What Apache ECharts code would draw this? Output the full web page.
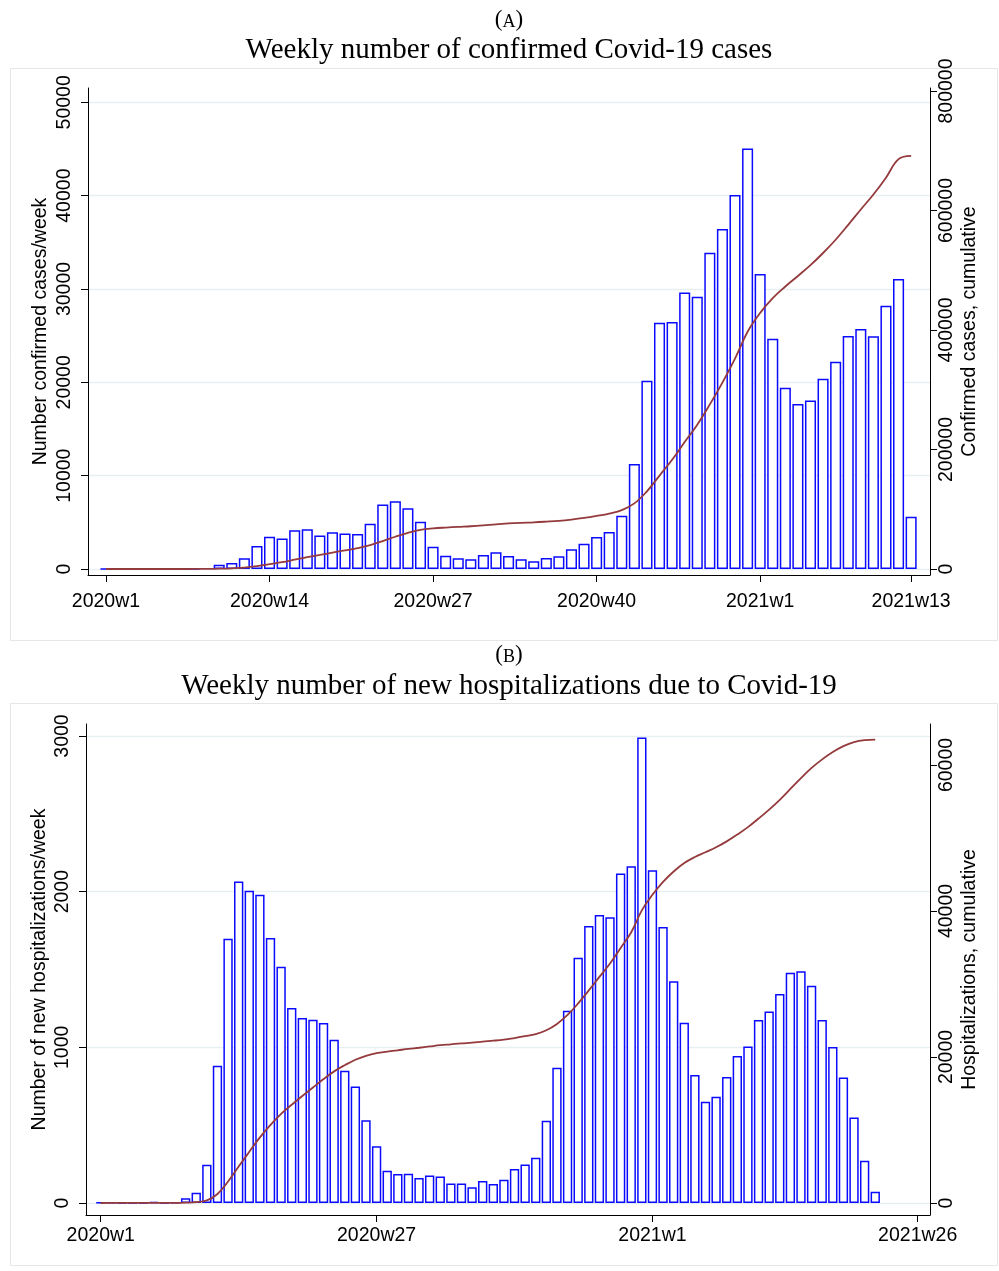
<!DOCTYPE html>
<html>
<head>
<meta charset="utf-8">
<script src="https://cdn.jsdelivr.net/npm/echarts@6/dist/echarts.min.js"></script>
<style>
  html, body { margin: 0; padding: 0; background: #ffffff; }
  #chart { width: 999px; height: 1271px; }
</style>
</head>
<body>
<div id="chart"></div>
<script>
// Weekly counts (Stata-style weeks: 52 per year, index 0 = 2020w1)
const casesWeekly = [
  5, null, null, null, 10, 10, null, 20, null, 460,
  640, 1140, 2460, 3460, 3280, 4140, 4250, 3600, 3930, 3800,
  3750, 4850, 6920, 7250, 6500, 5070, 2390, 1430, 1140, 1040,
  1500, 1790, 1390, 1040, 820, 1180, 1360, 2110, 2710, 3430,
  3960, 5700, 11250, 20180, 26390, 26460, 29610, 29180, 33890, 36430,
  40070, 45040, 31610, 24680, 19430, 17680, 18040, 20390, 22210, 24960,
  25710, 24930, 28210, 31070, 5610
];

const hospWeekly = [
  2, 2, 0, 0, 1, 6, 1, 3, 30, 66,
  246, 882, 1698, 2066, 2006, 1980, 1702, 1518, 1252, 1188,
  1177, 1156, 1049, 850, 749, 531, 364, 208, 186, 188,
  160, 176, 171, 126, 126, 101, 141, 122, 150, 218,
  248, 291, 528, 869, 1235, 1576, 1779, 1850, 1835, 2117,
  2164, 2990, 2137, 1773, 1424, 1158, 822, 651, 683, 809,
  944, 1006, 1175, 1231, 1342, 1479, 1488, 1396, 1175, 1002,
  807, 550, 272, 73
];

// Axis tick labels
const casesTicksX = ['2020w1', '2020w14', '2020w27', '2020w40', '2021w1', '2021w13'];
const hospTicksX = ['2020w1', '2020w27', '2021w1', '2021w26'];
const casesTicksY = [0, 10000, 20000, 30000, 40000, 50000];
const casesCumTicksY = [0, 200000, 400000, 600000, 800000];
const hospTicksY = [0, 1000, 2000, 3000];
const hospCumTicksY = [0, 20000, 40000, 60000];

function weekName(i) {
  return i < 52 ? '2020w' + (i + 1) : '2021w' + (i - 51);
}
function weekList(n) {
  return Array.from({ length: n }, (_, i) => weekName(i));
}
const casesWeeks = weekList(65);
const hospWeeks = weekList(78);

// Cumulative totals of the weekly counts
function runningTotal(arr) {
  let s = 0;
  return arr.map(v => (s += (v || 0)));
}
function toPairs(arr) {
  const out = [];
  arr.forEach((v, i) => { if (v !== null && v !== undefined) out.push([i, v]); });
  return out;
}

const FONT_SANS = '"Liberation Sans", Arial, Helvetica, sans-serif';
const FONT_SERIF = '"Liberation Serif", "Times New Roman", serif';
const INK = '#000000';
const GRID_COLOR = '#e8eff1';
const BAR_EDGE = '#0a0aff';
const LINE_COLOR = '#943a3c';
const LABEL_SIZE = 19.5;

function xAxisCfg(gridIndex, min, max, weeks, tickNames, margin) {
  const idx = tickNames.map(t => weeks.indexOf(t));
  return {
    type: 'value', gridIndex, min, max, position: 'bottom',
    axisLine: { show: true, onZero: false, lineStyle: { color: INK, width: 1 } },
    axisTick: { show: true, length: 7, customValues: idx, lineStyle: { color: INK, width: 1 } },
    axisLabel: {
      show: true, customValues: idx, formatter: v => weeks[v] || weekName(v),
      color: INK, fontFamily: FONT_SANS, fontSize: LABEL_SIZE, margin
    },
    splitLine: { show: false }
  };
}

function yAxisCfg(gridIndex, position, min, max, ticks, name, nameGap, margin, gridLines) {
  return {
    type: 'value', gridIndex, position, min, max,
    name, nameLocation: 'middle', nameGap, nameRotate: 90, nameMoveOverlap: false,
    nameTextStyle: { color: INK, fontFamily: FONT_SANS, fontSize: LABEL_SIZE },
    axisLine: { show: true, onZero: false, lineStyle: { color: INK, width: 1 } },
    axisTick: { show: true, length: 7, customValues: ticks, lineStyle: { color: INK, width: 1 } },
    axisLabel: {
      show: true, customValues: ticks, rotate: 90, formatter: v => String(v),
      color: INK, fontFamily: FONT_SANS, fontSize: LABEL_SIZE, margin
    },
    splitLine: { show: gridLines, lineStyle: { color: GRID_COLOR, width: 1.3 } }
  };
}

function barSeries(xi, yi, values) {
  return {
    type: 'bar', xAxisIndex: xi, yAxisIndex: yi,
    data: toPairs(values), barWidth: '88%',
    itemStyle: { color: '#ffffff', borderColor: BAR_EDGE, borderWidth: 1.5 },
    emphasis: { disabled: true }, z: 2
  };
}
function cumSeries(xi, yi, values) {
  return {
    type: 'line', xAxisIndex: xi, yAxisIndex: yi,
    data: runningTotal(values).map((v, i) => [i, v]),
    showSymbol: false, smooth: 0.4,
    lineStyle: { color: LINE_COLOR, width: 1.8 },
    emphasis: { disabled: true }, z: 3
  };
}

function panelLabel(letter, y) {
  return {
    type: 'text', x: 509, y, silent: true,
    style: {
      text: '{p|(}{c|' + letter + '}{p|)}', align: 'center', verticalAlign: 'middle',
      rich: {
        p: { fontFamily: FONT_SERIF, fontSize: 23, fill: INK, verticalAlign: 'bottom' },
        c: { fontFamily: FONT_SERIF, fontSize: 18, fill: INK, verticalAlign: 'bottom' }
      }
    }
  };
}
function panelTitle(text, y) {
  return {
    type: 'text', x: 509, y, silent: true,
    style: { text, fontFamily: FONT_SERIF, fontSize: 29, fill: INK, align: 'center', verticalAlign: 'middle' }
  };
}
function panelFrame(y, h) {
  return {
    type: 'rect', silent: true, z: -10,
    shape: { x: 10.5, y: y + 0.5, width: 987, height: h },
    style: { fill: 'none', stroke: '#e4e7e9', lineWidth: 1 }
  };
}

const chart = echarts.init(document.getElementById('chart'), null, { renderer: 'canvas' });
chart.setOption({
  animation: false,
  backgroundColor: '#ffffff',
  grid: [
    { left: 88, top: 88, width: 842, height: 487, containLabel: false, outerBoundsMode: 'none' },
    { left: 86, top: 724, width: 844, height: 491, containLabel: false, outerBoundsMode: 'none' }
  ],
  xAxis: [
    xAxisCfg(0, -1.43, 65.5, casesWeeks, casesTicksX, 17),
    xAxisCfg(1, -1.39, 78.16, hospWeeks, hospTicksX, 11)
  ],
  yAxis: [
    yAxisCfg(0, 'left', -643, 51532, casesTicksY, 'Number confirmed cases/week', 37, 13, true),
    yAxisCfg(0, 'right', -10042, 805021, casesCumTicksY, 'Confirmed cases, cumulative', 30, 7, false),
    yAxisCfg(1, 'left', -77, 3077, hospTicksY, 'Number of new hospitalizations/week', 36, 13, true),
    yAxisCfg(1, 'right', -1644, 65616, hospCumTicksY, 'Hospitalizations, cumulative', 30, 7, false)
  ],
  series: [
    barSeries(0, 0, casesWeekly),
    cumSeries(0, 1, casesWeekly),
    barSeries(1, 2, hospWeekly),
    cumSeries(1, 3, hospWeekly)
  ],
  graphic: [
    panelFrame(68, 572),
    panelFrame(703, 562),
    panelLabel('A', 20),
    panelTitle('Weekly number of confirmed Covid-19 cases', 50),
    panelLabel('B', 655),
    panelTitle('Weekly number of new hospitalizations due to Covid-19', 686)
  ]
});
</script>
</body>
</html>
